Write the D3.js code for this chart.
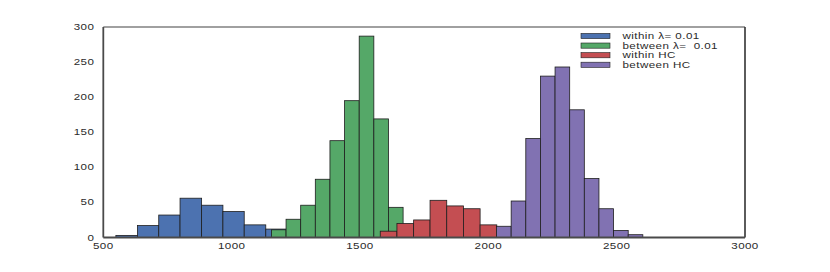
<!DOCTYPE html>
<html>
<head>
<meta charset="utf-8">
<script src="https://cdn.jsdelivr.net/npm/d3@7"></script>
<style>
  body { margin: 0; background: #fff; }
  text { font-family: "Liberation Sans", Arial, sans-serif; fill: #2a2a2a; white-space: pre; }
</style>
</head>
<body>
<script>
// histogram bin edges and counts
const blueEdges = [549, 633, 716, 799, 883, 966, 1049, 1133, 1216];
const blueCounts = [3, 17, 32, 56, 46, 37, 18, 12];
const greenEdges = [1155, 1212, 1269, 1326, 1383, 1440, 1497, 1554, 1611, 1668];
const greenCounts = [11, 26, 46, 83, 138, 195, 287, 169, 43];
const redEdges = [1579, 1644, 1709, 1773, 1838, 1903, 1968, 2033];
const redCounts = [9, 20, 25, 53, 45, 41, 18];
const purpleEdges = [2032, 2089, 2146, 2203, 2260, 2317, 2374, 2431, 2488, 2545, 2602];
const purpleCounts = [16, 52, 141, 230, 243, 182, 84, 41, 10, 4];

const seriesNames = ["within \u03bb= 0.01", "between \u03bb=  0.01", "within HC", "between HC"];
const xTicks = [500, 1000, 1500, 2000, 2500, 3000];
const yTicks = [0, 50, 100, 150, 200, 250, 300];

const colors = ["#4c72b0", "#55a868", "#c44e52", "#8172b2"];
const series = [
  {edges: blueEdges, counts: blueCounts},
  {edges: greenEdges, counts: greenCounts},
  {edges: redEdges, counts: redCounts},
  {edges: purpleEdges, counts: purpleCounts}
];

const svgWidth = 830, svgHeight = 272;
const plotLeft = 103.3, plotRight = 745, plotTop = 27, plotBottom = 237.5;
const stretch = 1.4; // text in the picture is widened

const xScale = d3.scaleLinear().domain([500, 3000]).range([plotLeft, plotRight]);
const yScale = d3.scaleLinear().domain([0, 300]).range([plotBottom, plotTop]);

const svg = d3.select('body').append('svg')
  .attr('width', svgWidth)
  .attr('height', svgHeight);

series.forEach((s, i) => {
  const bins = s.counts.map((c, j) => ({x0: s.edges[j], x1: s.edges[j + 1], n: c}));
  svg.append('g').selectAll('rect')
    .data(bins)
    .enter()
    .append('rect')
    .attr('x', d => xScale(d.x0))
    .attr('width', d => xScale(d.x1) - xScale(d.x0))
    .attr('y', d => yScale(d.n))
    .attr('height', d => yScale(0) - yScale(d.n))
    .attr('fill', colors[i])
    .attr('stroke', '#1e1e1e')
    .attr('stroke-width', 0.8);
});

// frame
svg.append('line').attr('x1', plotLeft).attr('x2', plotRight).attr('y1', plotTop).attr('y2', plotTop)
  .attr('stroke', '#808080').attr('stroke-width', 1.6);
svg.append('line').attr('x1', plotRight).attr('x2', plotRight).attr('y1', plotTop).attr('y2', plotBottom)
  .attr('stroke', '#333').attr('stroke-width', 1.6);
svg.append('line').attr('x1', plotLeft).attr('x2', plotLeft).attr('y1', plotTop).attr('y2', plotBottom)
  .attr('stroke', '#4a4a4a').attr('stroke-width', 1.8);
svg.append('line').attr('x1', plotLeft).attr('x2', plotRight).attr('y1', plotBottom).attr('y2', plotBottom)
  .attr('stroke', '#4a4a4a').attr('stroke-width', 1.8);

// tick labels
function stretchedText(g, x, y, str, anchor) {
  g.append('text')
    .attr('transform', `translate(${x},${y}) scale(${stretch},1)`)
    .attr('text-anchor', anchor)
    .attr('font-size', '8.3px')
    .attr('letter-spacing', '0.3px')
    .text(str);
}

const xAxis = svg.append('g');
xTicks.forEach(t => stretchedText(xAxis, xScale(t), plotBottom + 11, d3.format('d')(t), 'middle'));
const yAxis = svg.append('g');
yTicks.forEach(t => stretchedText(yAxis, plotLeft - 9, yScale(t) + 3, d3.format('d')(t), 'end'));

// legend
const legend = svg.append('g');
seriesNames.forEach((name, i) => {
  const y = 36 + i * 9.6;
  legend.append('rect')
    .attr('x', 581).attr('y', y - 2.6)
    .attr('width', 29).attr('height', 5.2)
    .attr('fill', colors[i])
    .attr('stroke', '#1e1e1e').attr('stroke-width', 0.6);
  stretchedText(legend, 622.5, y + 3, name, 'start');
});
</script>
</body>
</html>
